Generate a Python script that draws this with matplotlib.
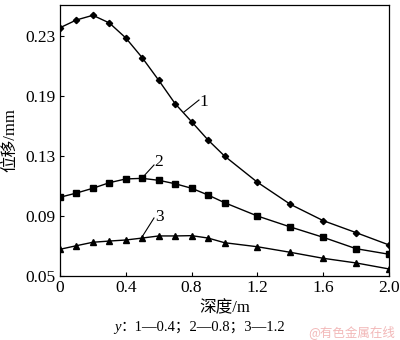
import numpy as np
import matplotlib
matplotlib.use("Agg")
import matplotlib.pyplot as plt
from matplotlib.offsetbox import TextArea, HPacker, AnchoredOffsetbox

plt.rcParams['font.family'] = ['Liberation Serif', 'Noto Sans CJK SC', 'DejaVu Sans']

# ---- data ----
depth = [0.0, 0.1, 0.2, 0.3, 0.4, 0.5, 0.6, 0.7, 0.8, 0.9, 1.0, 1.2, 1.4, 1.6, 1.8, 2.0]
disp_1 = [0.2355, 0.2407, 0.2438, 0.2387, 0.2287, 0.2155, 0.2005, 0.1823, 0.1643, 0.1460,
          0.1300, 0.1125, 0.0978, 0.0869, 0.0789, 0.0707]
disp_2 = [0.1025, 0.1053, 0.1085, 0.1122, 0.1147, 0.1151, 0.1138, 0.1115, 0.1085, 0.1040,
          0.0989, 0.0900, 0.0827, 0.0758, 0.0682, 0.0645]
disp_3 = [0.0678, 0.0702, 0.0725, 0.0733, 0.0740, 0.0753, 0.0767, 0.0767, 0.0769, 0.0753,
          0.0722, 0.0695, 0.0658, 0.0618, 0.0587, 0.0547]
x_ticks = [0, 0.4, 0.8, 1.2, 1.6, 2.0]
x_tick_labels = ['0', '0.4', '0.8', '1.2', '1.6', '2.0']
y_ticks = [0.05, 0.09, 0.13, 0.19, 0.23]
y_tick_labels = ['0.05', '0.09', '0.13', '0.19', '0.23']
curve_labels = ['1', '2', '3']

# axis as printed: tick labels equally spaced
knots = [0.01] + y_ticks + [0.27]
idx = list(range(-1, len(y_ticks) + 1))

def fwd(v):
    return np.interp(v, knots, idx)

def inv(u):
    return np.interp(u, idx, knots)

fig = plt.figure(figsize=(4.0, 3.4), dpi=100)
ax = fig.add_axes([60/400, 1-276/340, 329/400, 271/340])
ax.set_yscale('function', functions=(fwd, inv))

lw = 1.0
ax.plot(depth, disp_1, color='black', lw=lw, marker='D', ms=3.2)
ax.plot(depth, disp_2, color='black', lw=lw, marker='s', ms=4.0)
ax.plot(depth, disp_3, color='black', lw=lw, marker='^', ms=4.3)

ax.set_xlim(0, 2.0)
ax.set_ylim(0.05, inv(4 + 31/60))
ax.set_xticks(x_ticks)
ax.set_xticklabels(x_tick_labels)
ax.set_yticks(y_ticks)
ax.set_yticklabels(y_tick_labels)
ax.minorticks_off()
ax.tick_params(direction='in', length=3, width=0.8, labelsize=12.5, pad=3)
for s in ax.spines.values():
    s.set_linewidth(0.9)

ax.set_xlabel('深度/m', fontsize=12, labelpad=3)
ax.set_ylabel('位移/mm', fontsize=12, labelpad=5)

# curve labels with leader lines (pixel offsets)
def px_to_data(px, py):
    return ax.transData.inverted().transform(fig.transFigure.transform((px/400, 1-py/340)))

for lab, (x0, y0, x1, y1, tx, ty) in zip(curve_labels, [
        (184, 112, 199, 100, 204, 102),
        (143, 177, 154, 165, 159, 162),
        (142, 237, 154, 218, 160, 217)]):
    p0 = px_to_data(x0, y0)
    p1 = px_to_data(x1, y1)
    pt = px_to_data(tx, ty)
    ax.plot([p0[0], p1[0]], [p0[1], p1[1]], color='black', lw=0.8)
    ax.text(pt[0], pt[1], lab, fontsize=12.5, ha='center', va='center')

# caption
t1 = TextArea('y', textprops=dict(fontsize=10.5, style='italic', family=['Liberation Serif']))
t2 = TextArea('：1—0.4；2—0.8；3—1.2',
              textprops=dict(fontsize=10.5, family=['Liberation Serif', 'Noto Sans CJK SC']))
pack = HPacker(children=[t1, t2], align='baseline', pad=0, sep=0)
box = AnchoredOffsetbox(loc='center', child=pack, frameon=False, pad=0, borderpad=0,
                        bbox_to_anchor=(200/400, 1-327/340), bbox_transform=fig.transFigure)
fig.add_artist(box)

fig.text(395/400, 1-332/340, '@有色金属在线', fontsize=9, color='#f2b8b8',
         ha='right', va='center', family=['Noto Sans CJK SC', 'DejaVu Sans'])

fig.savefig('out.png', dpi=100)
